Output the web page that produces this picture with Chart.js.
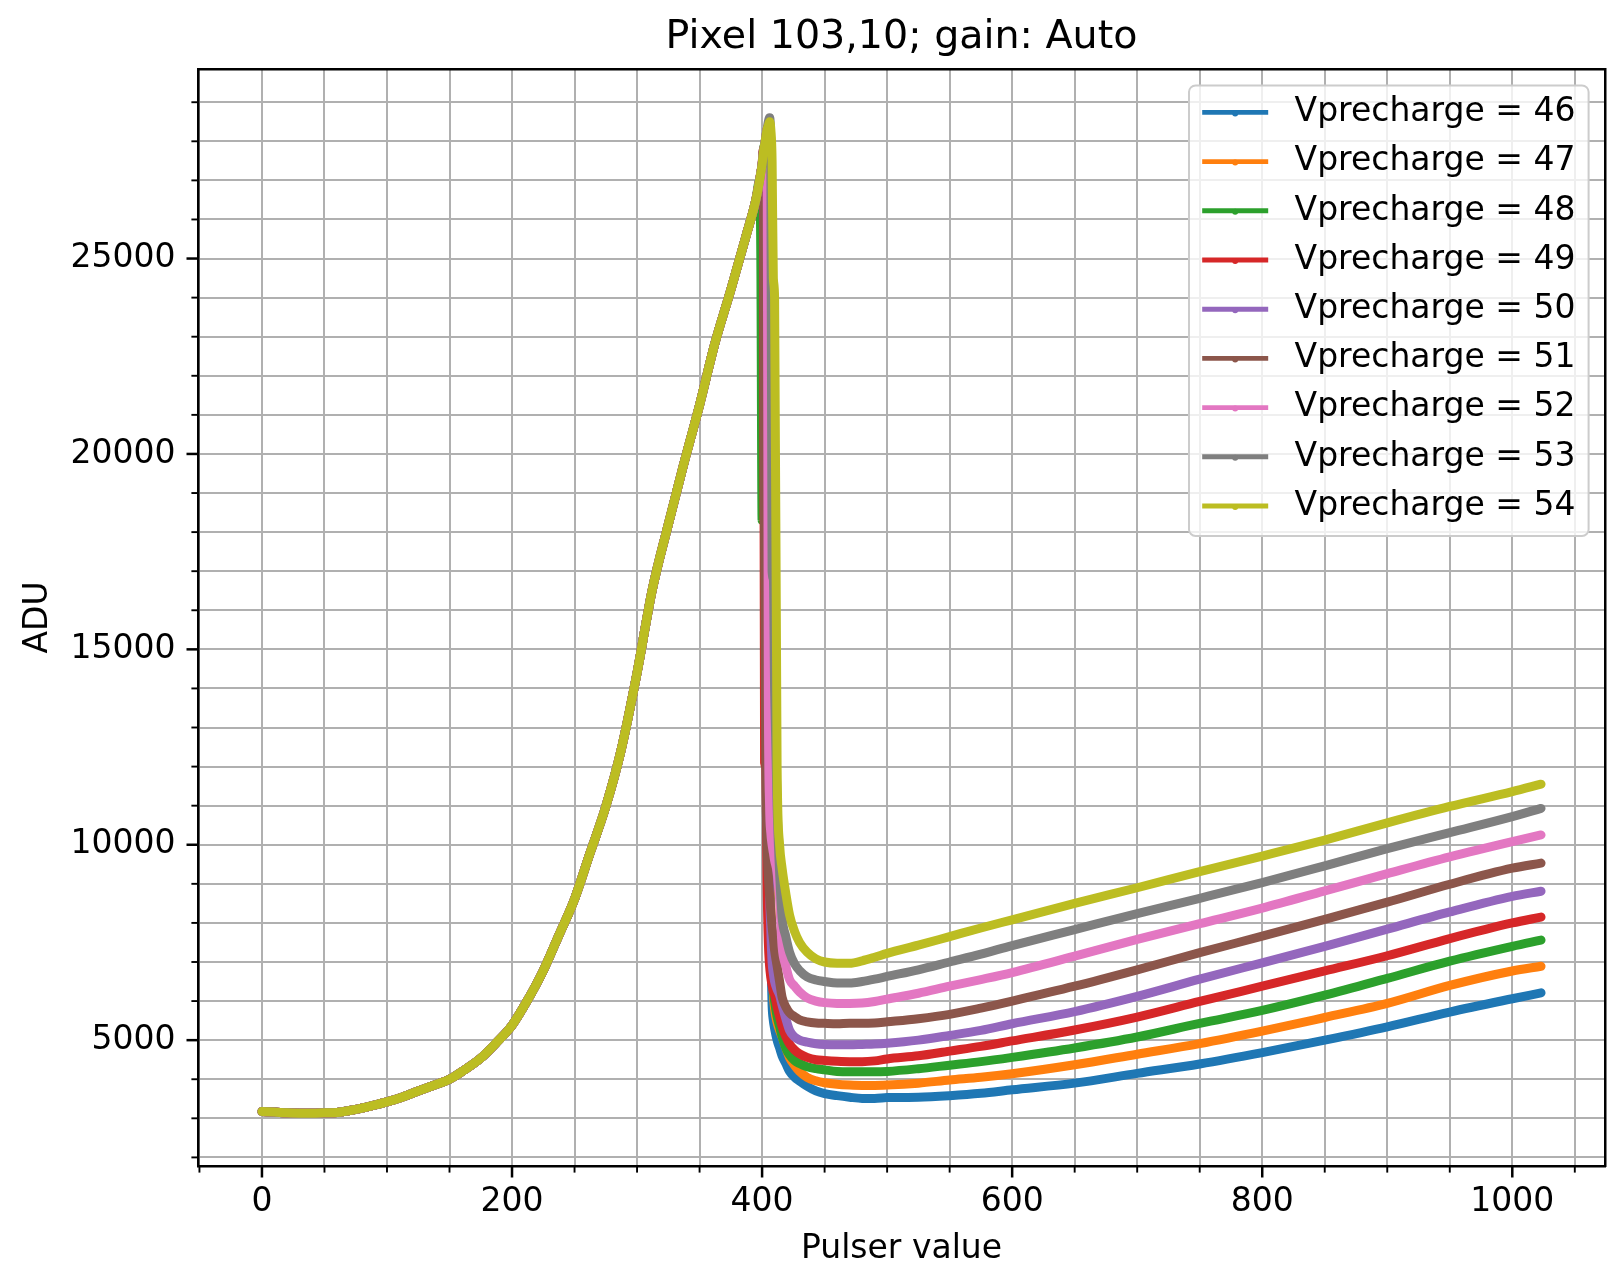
<!DOCTYPE html>
<html>
<head>
<meta charset="utf-8">
<script src="https://cdn.jsdelivr.net/npm/chart.js@4.4.1/dist/chart.umd.min.js"></script>
<style>
html,body{margin:0;padding:0;background:#fff;overflow:hidden}
canvas{display:block}
</style>
</head>
<body>
<canvas id="c" width="1608" height="1271"></canvas>
<script>
// ---------------- data ----------------
const chartTitle = 'Pixel 103,10; gain: Auto';
const xAxisLabel = 'Pulser value';
const yAxisLabel = 'ADU';
const seriesLabels = ['Vprecharge = 46','Vprecharge = 47','Vprecharge = 48','Vprecharge = 49','Vprecharge = 50','Vprecharge = 51','Vprecharge = 52','Vprecharge = 53','Vprecharge = 54'];

// shared rising part (all series overlap here)
const risePulser = [0,10,20,30,40,50,60,75,90,100,112,125,137,150,162,175,187,200,212,225,237,250,262,275,287,300,312,325,337,350,362,375,387,395];
const riseADU    = [3175,3160,3140,3130,3130,3140,3150,3230,3340,3420,3540,3700,3840,4000,4240,4540,4920,5380,6000,6780,7650,8610,9750,10980,12390,14400,16500,18200,19700,21250,22800,24200,25560,26500];

// peak, drop and tail
const tailPulser = [398,399,400,401,402,403,404,405,406,407,408,409,410,412,414,416,419,422,426,430,436,443,450,460,470,480,490,500,525,550,575,600,650,700,750,800,850,900,950,1000,1023];
const tailV46 = [27000,27200,27400,27700,27900,28100,28200,12000,9000,7200,5900,5500,5300,5000,4800,4600,4400,4200,4050,3950,3820,3700,3630,3580,3540,3510,3510,3530,3540,3580,3640,3730,3900,4150,4390,4680,5000,5340,5720,6060,6210];
const tailV47 = [27000,27200,27400,27700,27900,28100,28300,28400,11000,8500,7000,6200,5800,5450,5250,5085,4800,4550,4350,4200,4050,3960,3910,3870,3850,3840,3840,3850,3900,3980,4050,4140,4370,4640,4910,5230,5580,5940,6400,6770,6890];
const tailV48 = [27000,25000,18300,27700,27900,28100,28300,11500,9000,7600,6800,6300,6000,5600,5350,5100,4800,4620,4480,4400,4320,4270,4240,4200,4190,4190,4190,4200,4270,4360,4450,4560,4800,5080,5430,5760,6150,6580,7020,7400,7560];
const tailV49 = [27000,27200,27400,27800,12100,12000,9000,7500,6900,6600,6400,6250,6150,5850,5600,5350,5085,4900,4750,4650,4560,4500,4480,4460,4450,4450,4470,4520,4600,4720,4840,4980,5260,5590,5990,6380,6770,7160,7600,8000,8150];
const tailV50 = [27000,27200,27400,27700,27900,28100,28300,12500,9000,7800,7000,6700,6500,6300,6150,5900,5550,5250,5080,5000,4950,4910,4890,4880,4880,4890,4900,4920,5000,5120,5250,5420,5730,6120,6560,6980,7400,7840,8280,8680,8810];
const tailV51 = [27000,27200,27400,27800,17500,12000,10000,9200,8700,8300,7900,7600,7300,6900,6500,6100,5850,5700,5600,5520,5470,5440,5430,5420,5430,5430,5440,5470,5550,5660,5820,6000,6380,6800,7240,7660,8090,8530,8990,9400,9530];
const tailV52 = [27000,27200,27400,27700,27900,28100,28300,14000,11000,10300,10000,9800,9600,9300,8600,7400,6900,6550,6380,6230,6080,6000,5960,5940,5940,5950,5990,6050,6200,6380,6550,6730,7150,7580,7980,8380,8820,9260,9690,10080,10250];
const tailV53 = [27000,27200,27400,27700,27900,28100,28300,28500,28600,27500,17000,16800,14000,11000,9300,8150,7650,7250,6950,6780,6620,6540,6500,6460,6460,6500,6560,6630,6800,7000,7200,7420,7830,8240,8630,9030,9460,9900,10310,10720,10930];
const tailV54 = [27000,27200,27400,27700,27900,28100,28300,28400,28500,28300,27500,24500,24000,12000,10000,9400,8750,8200,7780,7500,7250,7080,7000,6970,6970,7030,7120,7220,7430,7650,7870,8080,8500,8900,9310,9710,10120,10560,10980,11360,11550];
const seriesTails = [tailV46,tailV47,tailV48,tailV49,tailV50,tailV51,tailV52,tailV53,tailV54];

// ticks
const xMajorTicks = [0,200,400,600,800,1000];
const xGridTicks  = [-50,0,50,100,150,200,250,300,350,400,450,500,550,600,650,700,750,800,850,900,950,1000,1050];
const yMajorTicks = [5000,10000,15000,20000,25000];
const yGridTicks  = [2000,3000,4000,5000,6000,7000,8000,9000,10000,11000,12000,13000,14000,15000,16000,17000,18000,19000,20000,21000,22000,23000,24000,25000,26000,27000,28000,29000];

// ---------------- style ----------------
const seriesColors = ['#1f77b4','#ff7f0e','#2ca02c','#d62728','#9467bd','#8c564b','#e377c2','#7f7f7f','#bcbd22'];
const X_MIN = -51.15, X_MAX = 1074.15, Y_MIN = 1780, Y_MAX = 29850;
const FS = 33;

Chart.defaults.font.family = '"DejaVu Sans", sans-serif';
Chart.defaults.color = '#000';

const pulserAll = risePulser.concat(tailPulser);
const datasets = seriesLabels.map((label, i) => {
  const vals = riseADU.concat(seriesTails[i]);
  return {
    label,
    data: pulserAll.map((x, j) => ({x, y: vals[j]})),
    borderColor: seriesColors[i],
    backgroundColor: seriesColors[i],
    borderWidth: 9,
    pointRadius: 0,
    pointHoverRadius: 0,
    fill: false,
    cubicInterpolationMode: 'monotone',
    borderJoinStyle: 'round',
    borderCapStyle: 'round',
    order: seriesLabels.length - 1 - i
  };
});

const gridStyle = {color: '#b0b0b0', lineWidth: 2, drawTicks: false};
const borderStyle = {display: true, color: '#000', width: 2.5};

// tick marks (major longer than minor), positioned by the scales
const tickMarks = {
  id: 'tickMarks',
  afterDraw(chart) {
    const ctx = chart.ctx, a = chart.chartArea;
    const xs = chart.scales.x, ys = chart.scales.y;
    ctx.save();
    ctx.strokeStyle = '#000';
    xs.ticks.forEach(t => {
      const major = xMajorTicks.includes(t.value);
      const p = xs.getPixelForValue(t.value);
      ctx.lineWidth = major ? 2.5 : 1.9;
      ctx.beginPath();
      ctx.moveTo(p, a.bottom);
      ctx.lineTo(p, a.bottom + (major ? 11.5 : 6.6));
      ctx.stroke();
    });
    ys.ticks.forEach(t => {
      const major = yMajorTicks.includes(t.value);
      const p = ys.getPixelForValue(t.value);
      ctx.lineWidth = major ? 2.5 : 1.9;
      ctx.beginPath();
      ctx.moveTo(a.left, p);
      ctx.lineTo(a.left - (major ? 11.5 : 6.6), p);
      ctx.stroke();
    });
    ctx.restore();
  }
};

// legend inside the plot, upper right
const innerLegend = {
  id: 'innerLegend',
  afterDraw(chart) {
    const ctx = chart.ctx, a = chart.chartArea;
    const ds = chart.data.datasets;
    ctx.save();
    ctx.font = FS + 'px "DejaVu Sans"';
    const tw = Math.max(...ds.map(d => ctx.measureText(d.label).width));
    const pad = 13.2, hl = 66, htp = 26.4;
    const w = pad + hl + htp + tw + pad;
    const right = a.right - 16.4, left = right - w, top = a.top + 16.4;
    const pitch = 49.2, first = 27;
    const h = first + (ds.length - 1) * pitch + 30;
    const r = 6.6;
    ctx.beginPath();
    ctx.moveTo(left + r, top);
    ctx.lineTo(right - r, top);
    ctx.arcTo(right, top, right, top + r, r);
    ctx.lineTo(right, top + h - r);
    ctx.arcTo(right, top + h, right - r, top + h, r);
    ctx.lineTo(left + r, top + h);
    ctx.arcTo(left, top + h, left, top + h - r, r);
    ctx.lineTo(left, top + r);
    ctx.arcTo(left, top, left + r, top, r);
    ctx.closePath();
    ctx.fillStyle = 'rgba(255,255,255,0.8)';
    ctx.fill();
    ctx.strokeStyle = '#cccccc';
    ctx.lineWidth = 2;
    ctx.stroke();
    ds.forEach((d, i) => {
      const cy = top + first + i * pitch;
      ctx.strokeStyle = d.borderColor;
      ctx.lineWidth = 4.9;
      ctx.lineCap = 'butt';
      ctx.beginPath();
      ctx.moveTo(left + pad, cy);
      ctx.lineTo(left + pad + hl, cy);
      ctx.stroke();
      ctx.fillStyle = d.borderColor;
      ctx.beginPath();
      ctx.arc(left + pad + hl / 2, cy + 1, 3, 0, Math.PI * 2);
      ctx.fill();
      ctx.fillStyle = '#000';
      ctx.textAlign = 'left';
      ctx.textBaseline = 'alphabetic';
      ctx.fillText(d.label, left + pad + hl + htp, cy + 8.8);
    });
    ctx.restore();
  }
};

new Chart(document.getElementById('c'), {
  type: 'line',
  data: {datasets},
  options: {
    responsive: false,
    devicePixelRatio: 1,
    animation: false,
    events: [],
    layout: {padding: 0},
    plugins: {
      legend: {display: false},
      tooltip: {enabled: false},
      title: {display: false}
    },
    scales: {
      x: {
        type: 'linear', position: 'bottom', min: X_MIN, max: X_MAX,
        afterBuildTicks: s => { s.ticks = xGridTicks.map(v => ({value: v})); },
        afterFit: s => { s.height = 105; },
        ticks: {autoSkip: false, maxRotation: 0, minRotation: 0, padding: 16.2,
                font: {size: FS}, color: '#000',
                callback: v => xMajorTicks.includes(v) ? String(v) : ''},
        grid: gridStyle,
        border: borderStyle,
        title: {display: true, text: xAxisLabel, font: {size: FS}, color: '#000', padding: {top: 0, bottom: 1.5}}
      },
      y: {
        type: 'linear', position: 'left', min: Y_MIN, max: Y_MAX,
        afterBuildTicks: s => { s.ticks = yGridTicks.map(v => ({value: v})); },
        afterFit: s => { s.width = 198; },
        ticks: {autoSkip: false, padding: 22.5, font: {size: FS}, color: '#000',
                callback: v => yMajorTicks.includes(v) ? String(v) : ''},
        grid: gridStyle,
        border: borderStyle,
        title: {display: true, text: yAxisLabel, font: {size: FS}, color: '#000', padding: {top: 18.2, bottom: 0}}
      },
      xTop: {
        type: 'linear', position: 'top', min: X_MIN, max: X_MAX, display: true,
        afterFit: s => { s.height = 69; },
        ticks: {display: false},
        grid: {display: false, drawTicks: false},
        border: borderStyle,
        title: {display: true, text: chartTitle, font: {size: 39.6}, color: '#000', padding: {top: 13.5, bottom: 0}}
      },
      yRight: {
        type: 'linear', position: 'right', min: Y_MIN, max: Y_MAX, display: true,
        afterFit: s => { s.width = 3; },
        ticks: {display: false},
        grid: {display: false, drawTicks: false},
        border: borderStyle
      }
    }
  },
  plugins: [tickMarks, innerLegend]
});
</script>
</body>
</html>
